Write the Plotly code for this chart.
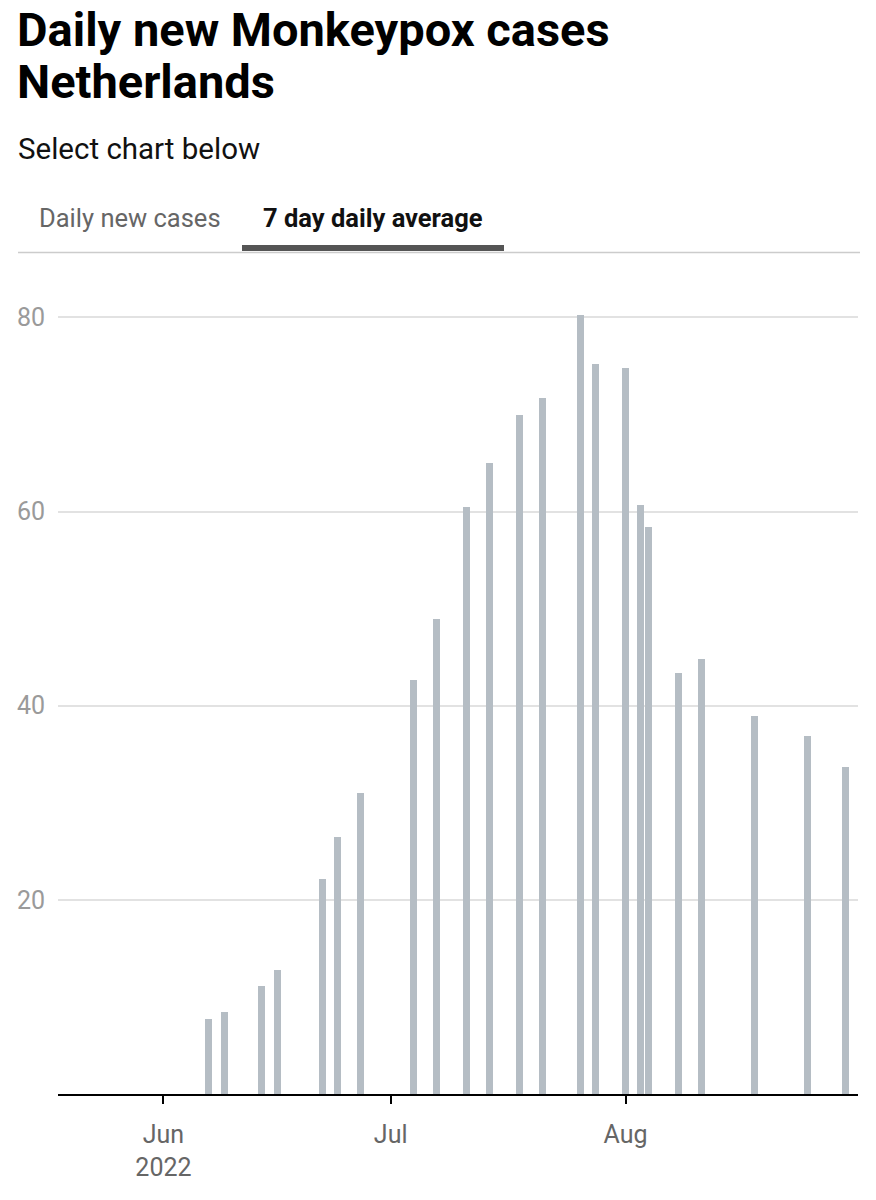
import plotly.graph_objects as go

dates = ["2022-06-07", "2022-06-09", "2022-06-14", "2022-06-16", "2022-06-22", "2022-06-24",
         "2022-06-27", "2022-07-04", "2022-07-07", "2022-07-11", "2022-07-14", "2022-07-18",
         "2022-07-21", "2022-07-26", "2022-07-28", "2022-08-01", "2022-08-03", "2022-08-04",
         "2022-08-08", "2022-08-11", "2022-08-18", "2022-08-25", "2022-08-30"]
avg_cases = [7.7, 8.4, 11.1, 12.8, 22.1, 26.5, 31.0, 42.6, 48.9, 60.5, 65.0, 69.9,
             71.7, 80.2, 75.2, 74.8, 60.7, 58.4, 43.4, 44.8, 38.9, 36.9, 33.7]
x_tickvals = ["2022-06-01", "2022-07-01", "2022-08-01"]
x_ticktext = ["Jun<br>2022", "Jul", "Aug"]
y_tickvals = [20, 40, 60, 80]

W, H = 876, 1200
L, R, T, B = 58, 18, 298, 106
PW, PH = W - L - R, H - T - B

def px_x(p):
    return (p - L) / PW

def px_y(p):
    return (H - B - p) / PH

fig = go.Figure()
fig.add_trace(go.Bar(
    x=dates, y=avg_cases,
    width=0.92 * 86400000,
    marker=dict(color="#b5bdc4", line=dict(width=0)),
    hoverinfo="x+y",
))

FONT = "Roboto"
annotations = [
    dict(text="<b>Daily new Monkeypox cases</b>", x=px_x(15), y=px_y(29), xanchor="left", yanchor="middle",
         font=dict(family=FONT, size=47, color="#000000")),
    dict(text="<b>Netherlands</b>", x=px_x(15), y=px_y(82), xanchor="left", yanchor="middle",
         font=dict(family=FONT, size=47, color="#000000")),
    dict(text="Select chart below", x=px_x(16), y=px_y(149), xanchor="left", yanchor="middle",
         font=dict(family=FONT, size=29.5, color="#111111")),
    dict(text="Daily new cases", x=px_x(37), y=px_y(218), xanchor="left", yanchor="middle",
         font=dict(family=FONT, size=25.5, color="#666666")),
    dict(text="<b>7 day daily average</b>", x=px_x(261), y=px_y(218), xanchor="left", yanchor="middle",
         font=dict(family=FONT, size=25.5, color="#111111")),
]
for a in annotations:
    a.update(xref="paper", yref="paper", showarrow=False)

shapes = [
    dict(type="line", xref="paper", yref="paper", x0=px_x(18), x1=px_x(860), y0=px_y(252.5), y1=px_y(252.5),
         line=dict(color="#cccccc", width=1.5)),
    dict(type="rect", xref="paper", yref="paper", x0=px_x(242), x1=px_x(504), y0=px_y(245), y1=px_y(251),
         fillcolor="#555555", line=dict(width=0)),
]

fig.update_layout(
    width=W, height=H,
    margin=dict(l=L, r=R, t=T, b=B, pad=0),
    paper_bgcolor="white", plot_bgcolor="white",
    showlegend=False,
    bargap=0,
    font=dict(family=FONT),
    annotations=annotations,
    shapes=shapes,
    xaxis=dict(
        type="date",
        range=["2022-05-18 02:00", "2022-08-31 16:30"],
        tickvals=x_tickvals, ticktext=x_ticktext,
        ticks="outside", ticklen=8, tickwidth=2, tickcolor="#000000",
        showline=True, linecolor="#000000", linewidth=2,
        showgrid=False, zeroline=False,
        tickfont=dict(family=FONT, size=25, color="#666666"),
        ticklabelstandoff=9,
    ),
    yaxis=dict(
        range=[0, 82],
        tickvals=y_tickvals,
        showgrid=True, gridcolor="#e2e2e2", gridwidth=1.5,
        zeroline=False, showline=False, ticks="",
        tickfont=dict(family=FONT, size=25, color="#9a9a9a"),
        ticklabelstandoff=12,
    ),
)

fig.write_html("out.html")
